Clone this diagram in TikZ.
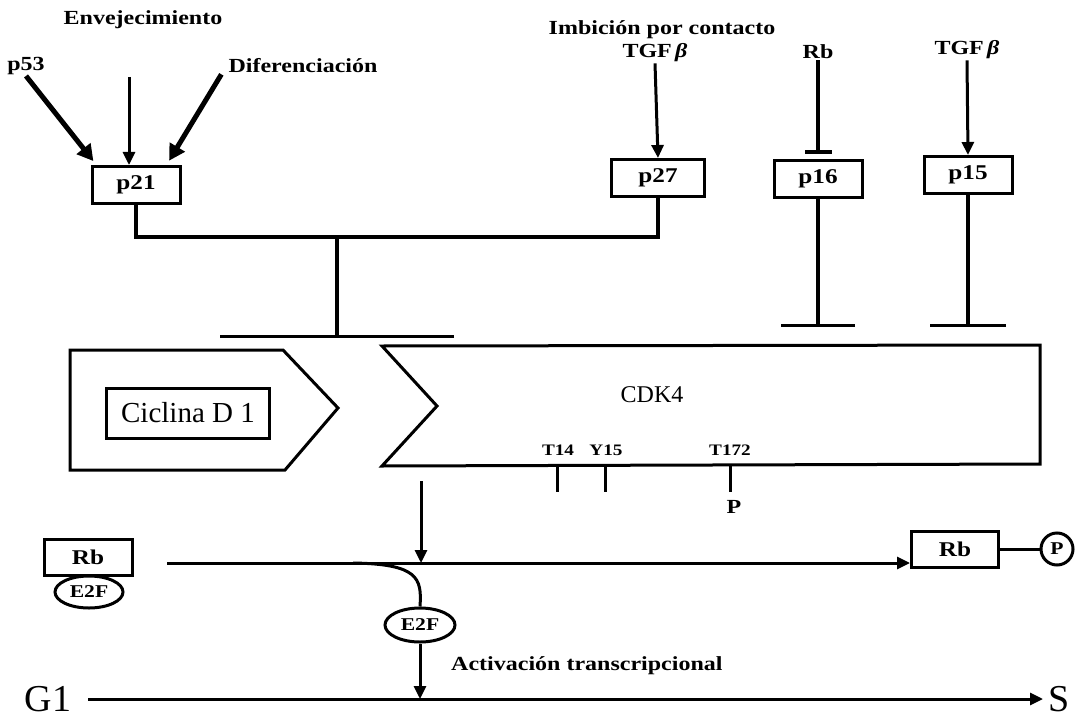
\documentclass[tikz,border=0pt]{standalone}
\usepackage{fontspec}
\setmainfont{Liberation Serif}
\newfontfamily\lblfont[FakeStretch=1.2]{Liberation Serif}
\usetikzlibrary{arrows.meta, shapes.geometric}

\begin{document}
\begin{tikzpicture}[x=1pt, y=-1pt,
            lbl/.style={font=\lblfont\bfseries\fontsize{20}{22}\selectfont, inner sep=1pt},
            sml/.style={font=\lblfont\bfseries\fontsize{16}{18}\selectfont, inner sep=1pt},
            box/.style={draw, line width=3pt, minimum width=88pt, minimum height=37pt,
                        inner sep=0pt, font=\lblfont\bfseries\fontsize{21}{23}\selectfont},
            oval/.style={draw, ellipse, line width=3pt, minimum width=68pt,
                         minimum height=32pt, inner sep=0pt,
                         font=\lblfont\bfseries\fontsize{18}{20}\selectfont},
            phase/.style={font=\fontsize{38}{40}\selectfont, inner sep=0.5pt, anchor=base},
            arr/.style={-{Triangle[length=13pt, width=12pt]}, line width=3pt},
            bigarr/.style={-{Triangle[length=16pt, width=17pt]}, line width=5pt},
            inh/.style={line width=3.2pt},
            tick/.style={line width=3pt}]

            \useasboundingbox (0,0) rectangle (1075,722);

            %% ── Nodes ─────────────────────────────────────────────────────
            \node[lbl] (envej) at (143,20)  {Envejecimiento};
            \node[lbl] (pcinc) at (26,66)   {p53};
            \node[lbl] (difer) at (303,66)  {Diferenciación};
            \node[lbl] (imbic) at (662,30)  {Imbición por contacto};
            \node[lbl] (tgfa)  at (655,53)  {TGF\,\textit{β}};
            \node[lbl] (rbtop) at (818,52)  {Rb};
            \node[lbl] (tgfb)  at (967,50)  {TGF\,\textit{β}};

            \node[box] (p21) at (136,185) {p21};
            \node[box, minimum width=93pt] (p27) at (658,178) {p27};
            \node[box] (p16) at (818,179) {p16};
            \node[box] (p15) at (968,175) {p15};

            \coordinate (ev)   at (129,77);
            \coordinate (jn)   at (337,237);
            \coordinate (cdkt) at (337,338);
            \coordinate (qa)   at (818,327);
            \coordinate (qb)   at (968,327);

            %% ── Ciclina D1 / CDK4 ─────────────────────────────────────────
            \draw[line width=3pt, line join=miter]
                (70,350) -- (283,350) -- (338,408) -- (285,470) -- (70,470) -- cycle;
            \node[draw, line width=3pt, minimum width=163pt, minimum height=50pt,
                  font=\fontsize{29}{31}\selectfont] (cicl) at (188,413) {Ciclina D 1};

            \draw[line width=3pt, line join=miter]
                (382,346) -- (1040,345) -- (1040,464) -- (382,466) -- (437,406) -- cycle;
            \node[font=\fontsize{24}{26}\selectfont] (cdk) at (652,395) {CDK4};

            \node[sml] (t14)  at (558,450) {T14};
            \node[sml] (y15)  at (606,450) {Y15};
            \node[sml] (t172) at (730,450) {T172};
            \node[lbl] (fosf) at (734,507) {P};
            \draw[tick] (557,465) -- (557,492);
            \draw[tick] (605,465) -- (605,492);
            \draw[tick] (730,465) -- (730,492);

            %% ── Rb / E2F ──────────────────────────────────────────────────
            \node[box, minimum height=36pt] (rba) at (88,557) {Rb};
            \node[oval] (ea) at (89,592) {E2F};
            \node[box, minimum width=87pt, minimum height=36pt] (rbb) at (955,549) {Rb};
            \node[circle, draw, line width=3pt, minimum size=32pt, inner sep=0pt,
                  font=\lblfont\bfseries\fontsize{18}{20}\selectfont] (pb) at (1057,549) {P};
            \node[oval, minimum width=70pt, minimum height=34pt] (eb) at (420,625) {E2F};
            \node[lbl, anchor=west] (activ) at (450,666) {Activación transcripcional};

            \node[phase] (gone) at (48,711)   {G1};
            \node[phase] (ese)  at (1059,711) {S};
            \coordinate (gln) at (88,699);
            \coordinate (sln) at (1043,699);

            \coordinate (rbst) at (167,563);
            \coordinate (cdkb) at (421,481);
            \coordinate (lnk)  at (421,563);

            %% ── Connectors ────────────────────────────────────────────────
            \draw[bigarr, shorten >=5pt] (pcinc.south) -- ([xshift=6pt]p21.north west);
            \draw[arr] (ev) -- (ev |- p21.north);
            \draw[bigarr, shorten >=5pt] ([xshift=-6pt]difer.south west)
                -- ([xshift=-15pt]p21.north east);

            \draw[arr] (tgfa.south) -- (p27.north);
            \draw[inh, -{Bar[width=27pt, line width=3.5pt]}, shorten >=5pt]
                (rbtop.south) -- (p16.north);
            \draw[arr] (tgfb.south) -- (p15.north);

            \draw[line width=3.2pt] (p21.south) |- (jn) -| (p27.south);
            \draw[inh, -{Bar[width=234pt, line width=3.5pt]}] (jn) -- (cdkt);
            \draw[inh, -{Bar[width=74pt, line width=3.5pt]}] (p16.south) -- (qa);
            \draw[inh, -{Bar[width=76pt, line width=3.5pt]}] (p15.south) -- (qb);

            \draw[arr] (cdkb) -- (lnk);
            \draw[arr] (rbst) -- (rbst -| rbb.west);
            \draw[line width=3pt] (rbb.east) -- (pb.west);
            \draw[line width=3pt] (353,563) .. controls (418,564) and (422,578) .. (eb.north);
            \draw[arr] (eb.south) -- (eb.south |- gln);
            \draw[arr] (gln) -- (sln);

        \end{tikzpicture}
\end{document}
